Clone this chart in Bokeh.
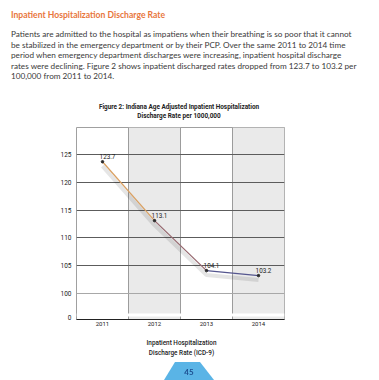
from bokeh.plotting import figure
from bokeh.models import Range1d, FixedTicker, BoxAnnotation, Grid, Div
from bokeh.layouts import column
from bokeh.core.properties import value
from bokeh.embed import file_html
from bokeh.resources import INLINE

# ---- data ----
years = [2011, 2012, 2013, 2014]
rates = [123.7, 113.1, 104.1, 103.2]
rate_labels = ["123.7", "113.1", "104.1", "103.2"]
year_labels = ["2011", "2012", "2013", "2014"]
y_ticks = [100, 105, 110, 115, 120, 125]
shaded_years = [2012, 2014]
seg_colors = ["#d9a062", "#96686f", "#55568f"]

# broken-axis helpers (axis layout, not data)
zero_tick = 95.6
break_low, break_high = 95.86, 96.4

heading = "Inpatient Hospitalization Discharge Rate"
para_lines = [
    "Patients are admitted to the hospital as impatiens when their breathing is so poor that it cannot",
    "be stabilized in the emergency department or by their PCP. Over the same 2011 to 2014 time",
    "period when emergency department discharges were increasing, inpatient hospital discharge",
    "rates were declining. Figure 2 shows inpatient discharged rates dropped from 123.7 to 103.2 per",
    "100,000 from 2011 to 2014.",
]
fig_title = ["Figure 2: Indiana Age Adjusted Inpatient Hospitalization", "Discharge Rate per 1000,000"]
x_title = ["Inpatient Hospitalization", "Discharge Rate (ICD-9)"]
page_no = "45"

W = 379

# ---- header ----
html = ['<div style="position:relative;width:379px;height:121px;">']
html.append(
    f'<div style="position:absolute;left:11px;top:10px;line-height:11px;white-space:nowrap;'
    f'font-family:Lato;font-weight:bold;font-size:8.6px;color:#e8763c;">{heading}</div>'
)
for i, ln in enumerate(para_lines):
    top = 29.3 + i * 10.4
    html.append(
        f'<div style="position:absolute;left:11px;top:{top:.1f}px;line-height:10px;white-space:nowrap;'
        f'font-family:Lato;font-size:8.2px;color:#3a3a3a;">{ln}</div>'
    )
for i, ln in enumerate(fig_title):
    top = 103 + i * 9
    html.append(
        f'<div style="position:absolute;left:29px;width:300px;top:{top}px;line-height:8px;text-align:center;'
        f'white-space:nowrap;font-family:Roboto;font-weight:bold;font-size:6.4px;color:#222;">{ln}</div>'
    )
html.append("</div>")
header = Div(text="".join(html), width=W, height=121, margin=(0, 0, 0, 0))

# ---- chart ----
p = figure(width=W, height=210, output_backend="svg", toolbar_location=None,
           x_range=Range1d(2010.5, 2014.5), y_range=Range1d(95.3, 129.86),
           min_border_left=76, min_border_right=95, min_border_top=6, min_border_bottom=12)
p.background_fill_color = "white"
p.border_fill_color = "white"
p.outline_line_color = "#a0a0a0"

for yr in shaded_years:
    p.add_layout(BoxAnnotation(left=yr - 0.5, right=yr + 0.5, fill_color="#eaeaea",
                               fill_alpha=1, line_color=None, level="image"))

p.xgrid.ticker = FixedTicker(ticks=[y + 0.5 for y in years[:-1]])
p.xgrid.grid_line_color = "#9c9c9c"
p.ygrid.ticker = FixedTicker(ticks=y_ticks[1:])
p.ygrid.grid_line_color = "#5c5c5c"
p.add_layout(Grid(dimension=1, ticker=FixedTicker(ticks=y_ticks[:1]), grid_line_color="#a8a8a8"))

# axis break band
p.add_layout(BoxAnnotation(bottom=break_low, top=break_high, fill_color="white",
                           fill_alpha=1, line_color=None))

# shadow
p.line(years, [r - 0.8 for r in rates], line_width=4, color="#000000", alpha=0.10)
for i in range(len(years) - 1):
    p.line(years[i:i + 2], rates[i:i + 2], line_width=1.3, color=seg_colors[i])
p.scatter(years, rates, size=2.5, color="#2a2a2a")
p.text(years, rates, text=rate_labels, text_font=value("Roboto"), text_font_size="6.3px",
       text_color="#222222", text_align="center", text_baseline="bottom", x_offset=5, y_offset=-3)

p.xaxis.ticker = FixedTicker(ticks=years)
p.xaxis.major_label_overrides = {y: l for y, l in zip(years, year_labels)}
p.xaxis.axis_line_color = "#222222"
p.xaxis.major_tick_line_color = None
p.xaxis.minor_tick_line_color = None
p.xaxis.major_tick_out = 0
p.xaxis.major_tick_in = 0
p.xaxis.major_label_standoff = 2
p.xaxis.major_label_text_font = "Roboto"
p.xaxis.major_label_text_font_size = "6px"
p.xaxis.major_label_text_color = "#222222"

p.yaxis.ticker = FixedTicker(ticks=[zero_tick] + y_ticks)
p.yaxis.major_label_overrides = {zero_tick: "0", **{t: str(t) for t in y_ticks}}
p.yaxis.axis_line_color = None
p.yaxis.major_tick_line_color = None
p.yaxis.minor_tick_line_color = None
p.yaxis.major_tick_out = 0
p.yaxis.major_tick_in = 0
p.yaxis.major_label_standoff = 5
p.yaxis.major_label_text_font = "Roboto"
p.yaxis.major_label_text_font_size = "6.5px"
p.yaxis.major_label_text_color = "#222222"

# ---- footer ----
f = ['<div style="position:relative;width:379px;height:41px;">']
for i, ln in enumerate(x_title):
    top = 8 + i * 10
    f.append(
        f'<div style="position:absolute;left:31.5px;width:300px;top:{top}px;line-height:9px;text-align:center;'
        f'white-space:nowrap;font-family:Roboto;font-weight:500;font-size:6.4px;color:#222;">{ln}</div>'
    )
f.append('<div style="position:fixed;left:164px;top:362px;width:50px;height:18px;background:#5ab4e6;'
         'clip-path:polygon(11px 0,36px 0,50px 100%,0 100%);"></div>')
f.append(f'<div style="position:fixed;left:164px;top:362px;width:50px;height:18px;line-height:20px;'
         f'text-align:center;font-family:Lato;font-weight:bold;font-size:8px;color:#1d4f91;">{page_no}</div>')
f.append("</div>")
footer = Div(text="".join(f), width=W, height=41, margin=(0, 0, 0, 0))

layout = column(header, p, footer, spacing=0)
open("out.html", "w").write(file_html(layout, INLINE))
